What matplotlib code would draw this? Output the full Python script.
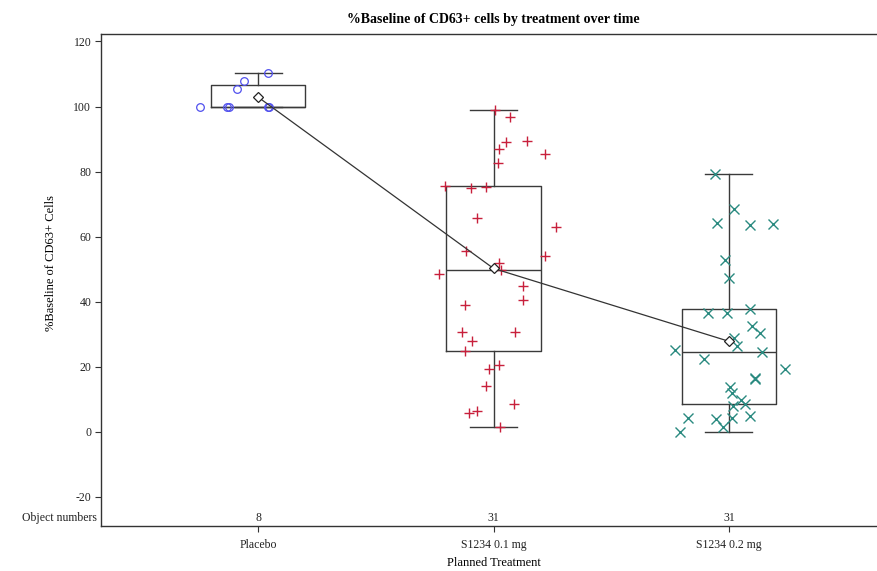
import numpy as np
import matplotlib
matplotlib.use("Agg")
import matplotlib.pyplot as plt
import matplotlib.transforms as mtransforms

# ---------------- data ----------------
categories = ["Placebo", "S1234 0.1 mg", "S1234 0.2 mg"]
object_numbers = [8, 31, 31]

placebo_vals = [110.2, 107.7, 105.3, 100.0, 100.0, 100.0, 100.0, 100.0]
placebo_jit = [0.044, -0.058, -0.088, -0.246, -0.133, -0.122, 0.044, 0.048]

low_vals = [98.9, 96.7, 89.0, 89.5, 86.8, 85.4, 82.5, 75.6, 74.9, 75.2, 65.6,
            62.9, 55.6, 53.9, 51.9, 49.7, 48.5, 44.8, 40.4, 39.0, 30.8, 30.6,
            27.9, 24.7, 20.6, 19.3, 14.0, 8.5, 5.7, 6.3, 1.3]
low_jit = [0.008, 0.072, 0.051, 0.141, 0.024, 0.220, 0.018, -0.207, -0.095,
           -0.031, -0.069, 0.266, -0.116, 0.217, 0.023, 0.030, -0.232, 0.126,
           0.126, -0.123, -0.135, 0.092, -0.093, -0.119, 0.024, -0.020,
           -0.030, 0.085, -0.102, -0.071, 0.028]

high_vals = [79.1, 68.5, 64.2, 63.5, 63.8, 52.7, 47.3, 37.7, 36.5, 36.5, 32.6,
             30.2, 28.7, 26.2, 25.1, 24.6, 22.3, 19.3, 16.3, 16.4, 13.8, 11.9,
             9.8, 8.5, 7.8, 4.2, 3.9, 4.2, 4.7, 1.4, 0.0]
high_jit = [-0.060, 0.022, -0.050, 0.091, 0.189, -0.015, 0.002, 0.088, -0.087,
            -0.009, 0.097, 0.130, 0.020, 0.036, -0.230, 0.142, -0.104, 0.240,
            0.110, 0.112, 0.003, 0.011, 0.052, 0.067, 0.016, -0.173, -0.056,
            0.015, 0.088, -0.025, -0.206]

groups = [placebo_vals, low_vals, high_vals]
jitters = [placebo_jit, low_jit, high_jit]
markers = ["o", "+", "x"]
colors = ["#5050ee", "#c8203c", "#2a8a80"]

# ---------------- figure ----------------
plt.rcParams["font.family"] = ["Liberation Serif", "DejaVu Serif"]
plt.rcParams["axes.unicode_minus"] = False
W, H = 878, 571
fig = plt.figure(figsize=(W / 100, H / 100), dpi=100)
left, right, top, bottom = 101, 886, 34, 526
ax = fig.add_axes([left / W, 1 - bottom / H, (right - left) / W, (bottom - top) / H])

positions = [1, 2, 3]

# box statistics (SAS definition 5 percentiles)
stats = []
for v in groups:
    a = np.array(v)
    q1, med, q3 = np.percentile(a, [25, 50, 75], method="averaged_inverted_cdf")
    iqr = q3 - q1
    lo = a[a >= q1 - 1.5 * iqr].min()
    hi = a[a <= q3 + 1.5 * iqr].max()
    stats.append(dict(med=med, q1=q1, q3=q3, whislo=lo, whishi=hi,
                      mean=a.mean(), fliers=[]))

boxc = "#3a3a3a"
ax.bxp(stats, positions=positions, widths=0.4, showmeans=False,
       showfliers=False, patch_artist=False,
       boxprops=dict(color=boxc, linewidth=1.0),
       whiskerprops=dict(color=boxc, linewidth=1.0),
       capprops=dict(color=boxc, linewidth=1.0),
       medianprops=dict(color=boxc, linewidth=1.0),
       capwidths=0.2, zorder=2)

# jittered points
for p, v, j, m, c in zip(positions, groups, jitters, markers, colors):
    xs = p + np.array(j)
    if m == "o":
        ax.plot(xs, v, linestyle="none", marker="o", markersize=5.5,
                markerfacecolor="none", markeredgecolor=c, markeredgewidth=0.9,
                zorder=3)
    else:
        ax.plot(xs, v, linestyle="none", marker=m, markersize=6.5,
                color=c, markeredgewidth=1.0, zorder=3)

# mean line + diamonds
means = [s["mean"] for s in stats]
ax.plot(positions, means, color="#333333", linewidth=0.9, zorder=4)
ax.plot(positions, means, linestyle="none", marker="D", markersize=5.5,
        markerfacecolor="white", markeredgecolor="#222222",
        markeredgewidth=0.9, zorder=5)

# axes styling
ax.set_xlim(0.333, 3.667)
ax.set_ylim(-29.0, 122.3)
ax.set_yticks(np.arange(-20, 121, 20))
ax.set_xticks(positions)
ax.set_xticklabels(categories)
for s in ["left", "top", "bottom"]:
    ax.spines[s].set_color("#333333")
    ax.spines[s].set_linewidth(1.0)
ax.spines["right"].set_visible(False)
ax.tick_params(axis="both", labelsize=8.5, colors="#333333", length=4.5,
               width=0.8, labelcolor="#222222")
ax.tick_params(axis="x", pad=5)
ax.tick_params(axis="y", pad=2.5)

ax.set_title("%Baseline of CD63+ cells by treatment over time",
             fontsize=10, fontweight="bold", pad=8)
ax.set_xlabel("Planned Treatment", fontsize=9, labelpad=4)
ax.set_ylabel("%Baseline of CD63+ Cells", fontsize=9)
ax.yaxis.set_label_coords(-0.056, 0.535)

# object numbers row
for p, n in zip(positions, object_numbers):
    ax.text(p, -26.4, str(n), ha="center", va="center", fontsize=8.5,
            color="#222222")
trans = mtransforms.blended_transform_factory(ax.transAxes, ax.transData)
ax.text(-0.005, -26.4, "Object numbers", ha="right", va="center",
        fontsize=8.5, color="#222222", transform=trans)

fig.savefig("out.png", dpi=100)
